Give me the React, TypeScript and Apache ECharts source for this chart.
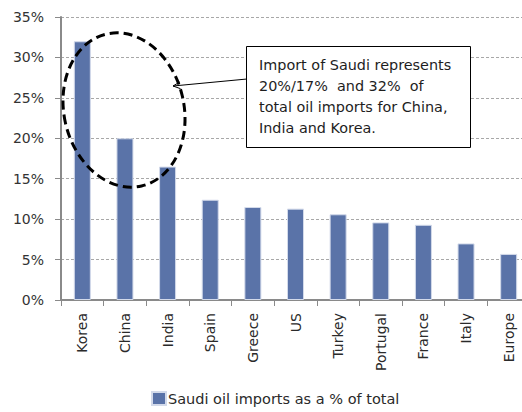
import React, { useEffect, useRef } from "react";
import * as echarts from "echarts";

const categories = ["Korea", "China", "India", "Spain", "Greece", "US", "Turkey", "Portugal", "France", "Italy", "Europe"];
const seriesName = "Saudi oil imports as a % of total";
const values = [32, 20, 16.5, 12.4, 11.5, 11.3, 10.6, 9.6, 9.3, 7.0, 5.7];
const yTicks = [0, 5, 10, 15, 20, 25, 30, 35];
const annotationLines = [
  "Import of Saudi represents",
  "20%/17%  and 32%  of",
  "total oil imports for China,",
  "India and Korea.",
];

const FONT = "'DejaVu Sans', 'Liberation Sans', Arial, sans-serif";

export default function App() {
  const ref = useRef<HTMLDivElement>(null);
  useEffect(() => {
    if (!ref.current) return;
    const chart = echarts.init(ref.current, null, { renderer: "svg" });
    const tip = [173, 86];
    const tail = [247, 79];
    const dx = tail[0] - tip[0];
    const dy = tail[1] - tip[1];
    const len = Math.sqrt(dx * dx + dy * dy);
    const ux = dx / len, uy = dy / len;
    const a = (25 * Math.PI) / 180, hl = 8;
    const p1 = [tip[0] + hl * (ux * Math.cos(a) - uy * Math.sin(a)), tip[1] + hl * (ux * Math.sin(a) + uy * Math.cos(a))];
    const p2 = [tip[0] + hl * (ux * Math.cos(-a) - uy * Math.sin(-a)), tip[1] + hl * (ux * Math.sin(-a) + uy * Math.cos(-a))];
    chart.setOption({
      animation: false,
      textStyle: { fontFamily: FONT },
      grid: { left: 61, top: 17, width: 469, bottom: 112, outerBoundsMode: "none" },
      legend: {
        bottom: 1,
        left: 146,
        itemWidth: 14,
        itemHeight: 13,
        itemGap: 10,
        icon: "rect",
        textStyle: { fontSize: 14.5, color: "#2a2a2a", fontFamily: FONT, padding: [0, 0, 0, -3] },
        data: [seriesName],
      },
      xAxis: {
        type: "category",
        data: categories,
        axisLine: { lineStyle: { color: "#8a8a8a", width: 2 } },
        axisTick: { show: true, length: 6, lineStyle: { color: "#8a8a8a", width: 1 } },
        axisLabel: { rotate: 90, fontSize: 14, color: "#2a2a2a", margin: 13, fontFamily: FONT },
      },
      yAxis: {
        type: "value",
        min: yTicks[0],
        max: yTicks[yTicks.length - 1],
        interval: 5,
        axisLine: { show: true, lineStyle: { color: "#8a8a8a", width: 2 } },
        axisTick: { show: true, length: 6, lineStyle: { color: "#8a8a8a" } },
        axisLabel: { formatter: "{value}%", fontSize: 14, color: "#333", margin: 17, fontFamily: FONT },
        splitLine: { lineStyle: { color: "#a8a8a8", type: [3, 2], width: 1 } },
      },
      series: [
        {
          name: seriesName,
          type: "bar",
          data: values,
          barWidth: 17,
          itemStyle: { color: "#5a73a8", borderColor: "#d3daea", borderWidth: 1 },
        },
      ],
      graphic: [
        {
          type: "ellipse",
          x: 124,
          y: 110,
          rotation: (13 * Math.PI) / 180,
          shape: { cx: 0, cy: 0, rx: 60, ry: 78 },
          style: { fill: "none", stroke: "#000", lineWidth: 3, lineDash: [9, 5] },
          z: 100,
        },
        {
          type: "line",
          shape: { x1: tail[0], y1: tail[1], x2: tip[0], y2: tip[1] },
          style: { stroke: "#000", lineWidth: 1 },
          z: 100,
        },
        {
          type: "polyline",
          shape: { points: [p1, tip, p2] },
          style: { stroke: "#000", lineWidth: 1, fill: "none" },
          z: 100,
        },
        {
          type: "rect",
          shape: { x: 246.5, y: 46.5, width: 224, height: 101 },
          style: { fill: "#fff", stroke: "#000", lineWidth: 1 },
          z: 100,
        },
        {
          type: "text",
          x: 259,
          y: 54,
          style: {
            text: annotationLines.join("\n"),
            font: `14.4px ${FONT}`,
            fill: "#1e1e1e",
            lineHeight: 21,
            verticalAlign: "top",
          },
          z: 101,
        },
      ],
    });
    return () => chart.dispose();
  }, []);
  return <div ref={ref} style={{ position: "absolute", left: 0, top: 0, width: 522, height: 412 }} />;
}
